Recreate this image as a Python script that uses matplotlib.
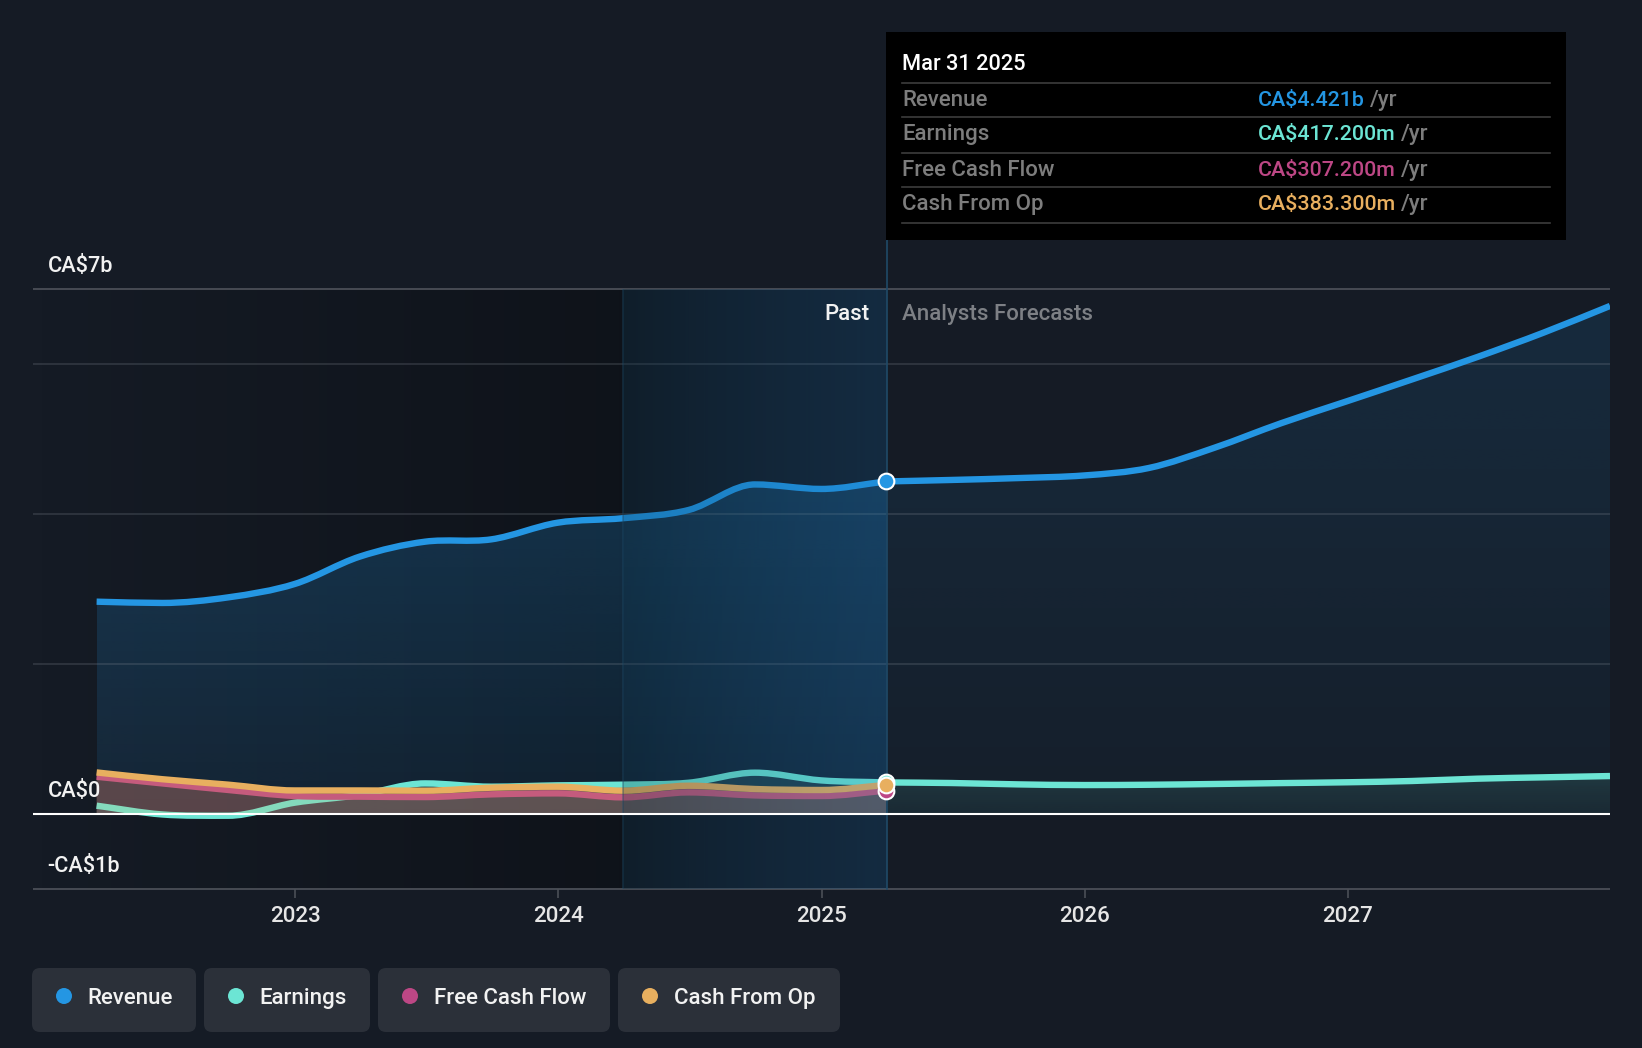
"""Revenue, earnings and cash flow chart with analyst forecasts."""

import numpy as np
import matplotlib
matplotlib.use("Agg")
import matplotlib.pyplot as plt
import matplotlib.dates as mdates
from matplotlib.colors import to_rgb
from matplotlib.path import Path
from matplotlib.patches import PathPatch, FancyBboxPatch, Rectangle, Circle

# values in CA$ billions
past_dates = ["2022-03-31", "2022-06-30", "2022-09-30", "2022-12-31", "2023-03-31",
              "2023-06-30", "2023-09-30", "2023-12-31", "2024-03-31", "2024-06-30",
              "2024-09-30", "2024-12-31", "2025-03-31"]
revenue_past = [2.827, 2.81, 2.885, 3.063, 3.427, 3.627, 3.658, 3.88, 3.94, 4.05, 4.39, 4.33, 4.43]
earnings_past = [0.107, -0.01, -0.027, 0.147, 0.249, 0.404, 0.36, 0.378, 0.387, 0.413, 0.547, 0.444, 0.417]
fcf_past = [0.493, 0.404, 0.316, 0.236, 0.227, 0.222, 0.258, 0.271, 0.218, 0.284, 0.244, 0.236, 0.307]
cash_past = [0.55, 0.46, 0.387, 0.31, 0.31, 0.307, 0.347, 0.36, 0.307, 0.373, 0.329, 0.316, 0.383]

forecast_dates = ["2025-03-31", "2025-06-30", "2025-09-30", "2025-12-31", "2026-03-31",
                  "2026-06-30", "2026-09-30", "2026-12-31", "2027-03-31", "2027-06-30",
                  "2027-09-30", "2027-12-31"]
revenue_forecast = [4.43, 4.45, 4.475, 4.51, 4.61, 4.88, 5.205, 5.50, 5.79, 6.09, 6.415, 6.77]
earnings_forecast = [0.417, 0.409, 0.391, 0.382, 0.386, 0.396, 0.408, 0.419, 0.436, 0.467, 0.485, 0.502]

grid_values = [6, 4, 2]
year_ticks = [2023, 2024, 2025, 2026, 2027]

series_names = ["Revenue", "Earnings", "Free Cash Flow", "Cash From Op"]
series_values = ["CA$4.421b", "CA$417.200m", "CA$307.200m", "CA$383.300m"]
series_colors = ["#2496e3", "#6ce5d4", "#bd4785", "#e8af5f"]

BG = "#151b25"
W, H = 1642, 1048
FONT = "Roboto"
TEXT_SIZE = 16


def to_num(dates):
    return mdates.date2num(np.array(dates, dtype="datetime64[D]"))


def curve(x, y):
    """Bezier path through the points, flattened at local extremes."""
    x, y = np.asarray(x, float), np.asarray(y, float)
    sec = np.diff(y) / np.diff(x)
    m = np.zeros(len(x))
    m[0], m[-1] = sec[0], sec[-1]
    for i in range(1, len(x) - 1):
        if sec[i - 1] * sec[i] > 0:
            m[i] = (y[i + 1] - y[i - 1]) / (x[i + 1] - x[i - 1])
    verts = [(x[0], y[0])]
    codes = [Path.MOVETO]
    for i in range(len(x) - 1):
        dx = (x[i + 1] - x[i]) / 3
        verts += [(x[i] + dx, y[i] + m[i] * dx),
                  (x[i + 1] - dx, y[i + 1] - m[i + 1] * dx),
                  (x[i + 1], y[i + 1])]
        codes += [Path.CURVE4] * 3
    return verts, codes


def draw_line(ax, x, y, color, z):
    verts, codes = curve(x, y)
    ax.add_patch(PathPatch(Path(verts, codes), fc="none", ec=color, lw=4.6,
                           capstyle="butt", joinstyle="round", zorder=z))


def draw_fill(ax, x, y, color, alpha, z, alpha_bottom=None):
    """Area down to zero, optionally fading towards the zero line."""
    verts, codes = curve(x, y)
    verts = verts + [(x[-1], 0), (x[0], 0), (x[0], 0)]
    codes = codes + [Path.LINETO, Path.LINETO, Path.CLOSEPOLY]
    path = Path(verts, codes)
    if alpha_bottom is None:
        ax.add_patch(PathPatch(path, fc=color, ec="none", alpha=alpha, zorder=z))
        return
    img = np.zeros((256, 1, 4))
    img[..., :3] = to_rgb(color)
    img[:, 0, 3] = np.linspace(alpha, alpha_bottom, 256)
    top = max(y)
    im = ax.imshow(img, extent=(x[0], x[-1], 0, top), aspect="auto", zorder=z,
                   interpolation="bilinear")
    im.set_clip_path(PathPatch(path, transform=ax.transData))


def h_gradient(ax, x0, x1, c0, a0, c1, a1, z):
    t = np.linspace(0, 1, 256)
    img = np.zeros((1, 256, 4))
    for k in range(3):
        img[0, :, k] = to_rgb(c0)[k] * (1 - t) + to_rgb(c1)[k] * t
    img[0, :, 3] = a0 * (1 - t) + a1 * t
    ax.imshow(img, extent=(x0, x1, -1, 7), aspect="auto", zorder=z, interpolation="bilinear")


def label(ui, x, y, text, color="#f2f2f2", size=TEXT_SIZE, ha="left", weight="medium"):
    ui.text(x, y + 1.2, text, color=color, fontsize=size, va="center", ha=ha, fontweight=weight)


def main():
    plt.rcParams["font.family"] = [FONT, "DejaVu Sans"]
    fig = plt.figure(figsize=(W / 100, H / 100), dpi=100, facecolor=BG)
    ax = fig.add_axes([32.5 / W, 1 - 888.7 / H, (1610 - 32.5) / W, 600 / H], facecolor=BG)

    xp = to_num(past_dates)
    xf = to_num(forecast_dates)
    x_start = mdates.date2num(np.datetime64("2022-01-01"))
    x_end = mdates.date2num(np.datetime64("2027-12-31"))
    x_high = mdates.date2num(np.datetime64("2024-03-31"))
    x_now = xp[-1]

    # background bands
    h_gradient(ax, x_start, x_high, "#000000", 0.0, "#000000", 0.3, 1)

    # fills and lines, later fills wash over the earlier lines
    draw_fill(ax, xp, revenue_past, series_colors[0], 0.24, 2, alpha_bottom=0.1)
    draw_fill(ax, xf, revenue_forecast, series_colors[0], 0.13, 2, alpha_bottom=0.03)
    for v in grid_values:
        ax.axhline(v, color="#8b929c", alpha=0.25, lw=1.2, zorder=3, solid_capstyle="butt")
    draw_line(ax, xp, revenue_past, series_colors[0], 4)
    draw_line(ax, xf, revenue_forecast, series_colors[0], 4)

    draw_fill(ax, xp, earnings_past, series_colors[1], 0.13, 5)
    draw_fill(ax, xf, earnings_forecast, series_colors[1], 0.13, 5, alpha_bottom=0.06)
    draw_line(ax, xf, earnings_forecast, series_colors[1], 6)

    draw_fill(ax, xp, fcf_past, series_colors[2], 0.2, 7)
    draw_line(ax, xp, earnings_past, series_colors[1], 7.5)
    draw_line(ax, xp, fcf_past, series_colors[2], 8)
    draw_fill(ax, xp, cash_past, series_colors[3], 0.2, 9)
    draw_line(ax, xp, cash_past, series_colors[3], 10)

    # past highlight sits on top of the lines
    h_gradient(ax, x_high, x_now + 1, "#00283c", 0.25, "#1070b8", 0.19, 11)
    ax.plot([x_high, x_high], [-1, 7], color="#1f4a68", alpha=0.45, lw=1.2, zorder=12)
    ax.plot([x_now + 1, x_now + 1], [-1, 7.66], color="#1f4a68", lw=1.2, zorder=12, clip_on=False)

    ax.axhline(0, color="white", lw=1.5, zorder=13, solid_capstyle="butt")
    ax.axhline(7, color="#4b4f57", lw=1.3, zorder=3, solid_capstyle="butt", clip_on=False)
    ax.axhline(-1, color="#4b4f57", lw=1.3, zorder=3, solid_capstyle="butt", clip_on=False)

    ends = [revenue_past[-1], earnings_past[-1], fcf_past[-1], cash_past[-1]]
    for k, i in enumerate([0, 1, 2, 3]):
        ax.plot([x_now - 0.6], [ends[i]], "o", ms=11.3, mfc=series_colors[i], mec="white", mew=1.5,
                zorder=14 + k, clip_on=False)

    ax.set_xlim(x_start, x_end)
    ax.set_ylim(-1, 7)
    for s in ax.spines.values():
        s.set_visible(False)
    ax.set_yticks([])
    ax.set_xticks(to_num([f"{y}-01-01" for y in year_ticks]))
    ax.set_xticklabels([str(y) for y in year_ticks], fontsize=TEXT_SIZE, color="#e6e6e6",
                       fontweight="medium")
    ax.tick_params(axis="x", length=6.5, width=1.2, color="#4b4f57", pad=6)

    # overlay in figure pixels for the tooltip, labels and legend
    ui = fig.add_axes([0, 0, 1, 1], zorder=5)
    ui.set_xlim(0, W)
    ui.set_ylim(H, 0)
    ui.axis("off")

    label(ui, 48, 265, "CA$7b", size=15.6)
    label(ui, 48, 790.5, "CA$0", size=15.6)
    label(ui, 47.5, 865, "-CA$1b", size=15.6)
    label(ui, 869.5, 313.5, "Past", ha="right")
    label(ui, 902, 313.5, "Analysts Forecasts", color="#7d8085")

    # tooltip
    ui.add_patch(Rectangle((886, 32), 680, 208, fc="black", ec="none"))
    label(ui, 902, 63, "Mar 31 2025", color="white", size=15.7)
    for y in [82.7, 116.7, 152.7, 186.7, 222.7]:
        ui.plot([902, 1549.5], [y, y], color="#3d3d3d", lw=1.2)
    row_y = [99.7, 133, 169, 203.7]
    yr_x = [1369.7, 1401, 1401, 1401]
    for name, val, col, y, xr in zip(series_names, series_values, series_colors, row_y, yr_x):
        label(ui, 902, y, name, color="#7d7d7d")
        label(ui, 1257.5, y, val, color=col, size=15.4)
        label(ui, xr, y, "/yr", color="#7d7d7d")

    # legend buttons
    btn_x = [(32, 196), (204, 370), (378, 610), (618, 840)]
    dot_x = [64, 236, 410, 650]
    txt_x = [87, 259.5, 434.5, 674.5]
    for name, col, (x0, x1), dx, tx in zip(series_names, series_colors, btn_x, dot_x, txt_x):
        ui.add_patch(FancyBboxPatch((x0 + 8, 976), x1 - x0 - 16, 48,
                                    boxstyle="round,pad=8,rounding_size=8",
                                    fc="#2b3039", ec="none"))
        ui.add_patch(Circle((dx, 996), 8, fc=col, ec="none"))
        label(ui, tx, 997, name)

    fig.savefig("out.png", dpi=100, facecolor=BG)


if __name__ == "__main__":
    main()
